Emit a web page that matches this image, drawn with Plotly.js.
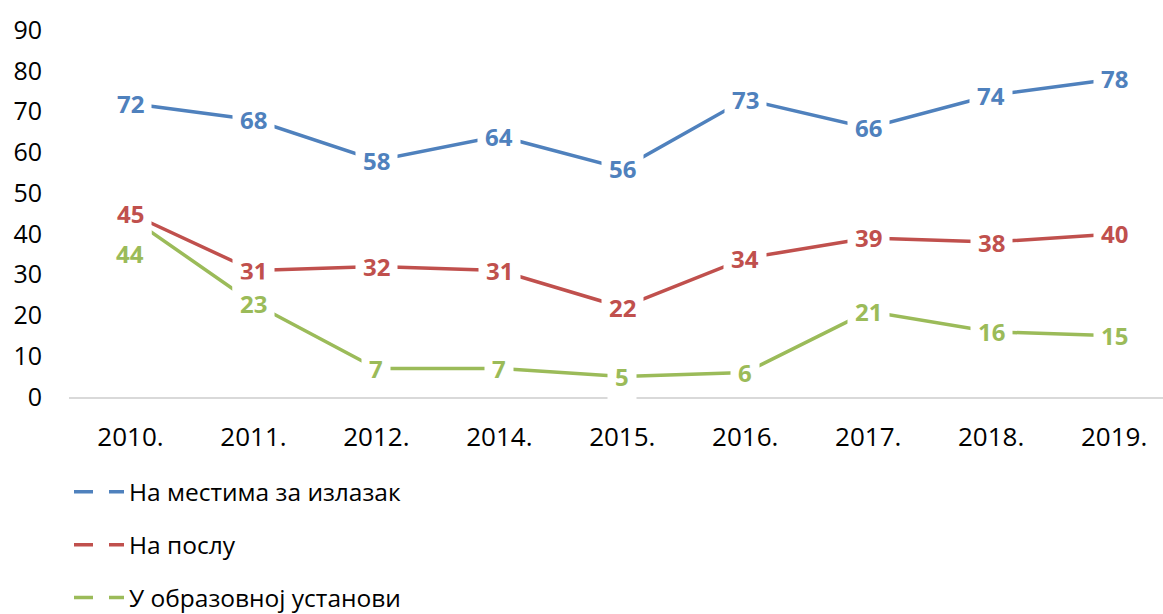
<!DOCTYPE html>
<html>
<head>
<meta charset="utf-8">
<script src="https://cdn.plot.ly/plotly-3.0.1.min.js"></script>
<style>html,body{margin:0;padding:0;background:#fff;}#chart{width:1163px;height:614px;}</style>
</head>
<body>
<div id="chart"></div>
<script>
const years = ['2010.','2011.','2012.','2014.','2015.','2016.','2017.','2018.','2019.'];
const seriesNames = ['На местима за излазак','На послу','У образовној установи'];
const izlazak = [72,68,58,64,56,73,66,74,78];
const posao = [45,31,32,31,22,34,39,38,40];
const obrazovna = [44,23,7,7,5,6,21,16,15];
const colors = ['#4F81BD','#C0504D','#9BBB59'];

const FONT = 'Open Sans, Noto Sans, sans-serif';
const allSeries = [izlazak, posao, obrazovna];

const traces = [];
allSeries.forEach((vals, i) => {
  traces.push({
    type: 'scatter', mode: 'lines', x: years, y: vals,
    line: {color: colors[i], width: 3.5},
    showlegend: false, hoverinfo: 'skip'
  });
});
allSeries.forEach((vals, i) => {
  traces.push({
    type: 'scatter', mode: 'lines', x: [null], y: [null],
    name: seriesNames[i], legendgroup: 'g' + i,
    line: {color: colors[i], width: 3.5, dash: '19px,16px'},
    showlegend: true
  });
});

const annotations = [];
allSeries.forEach((vals, i) => {
  vals.forEach((v, j) => {
    const a = {
      x: j, y: v, xref: 'x', yref: 'y',
      text: '<b>' + v + '</b>', showarrow: false,
      font: {family: FONT, size: 24, color: colors[i]},
      bgcolor: '#ffffff', borderpad: 7
    };
    if (i === 2 && j === 0) a.yshift = -36;
    annotations.push(a);
  });
});

const layout = {
  width: 1163, height: 614,
  margin: {l: 69, r: 0, t: 30, b: 217},
  paper_bgcolor: '#fff', plot_bgcolor: '#fff',
  font: {family: FONT, size: 26, color: '#000'},
  xaxis: {
    type: 'category', range: [-0.5, 8.398],
    showline: true, linecolor: '#d9d9d9', linewidth: 2,
    showgrid: false, zeroline: false, ticks: '',
    ticklabelstandoff: 16,
    tickfont: {family: FONT, size: 26, color: '#000'}
  },
  yaxis: {
    range: [0, 90], dtick: 10, tick0: 0,
    showline: false, showgrid: false, zeroline: false, ticks: '',
    ticklabelstandoff: 26,
    tickfont: {family: FONT, size: 25, color: '#000'}
  },
  showlegend: true,
  legend: {
    x: 0, xanchor: 'left', xref: 'paper',
    y: 0.2355, yanchor: 'top', yref: 'container',
    orientation: 'v', traceorder: 'grouped', tracegroupgap: 18,
    font: {family: FONT, size: 24.5, color: '#000'},
    itemwidth: 50, bgcolor: 'rgba(0,0,0,0)'
  },
  annotations: annotations
};

Plotly.newPlot('chart', traces, layout, {displayModeBar: false, staticPlot: true});
</script>
</body>
</html>
